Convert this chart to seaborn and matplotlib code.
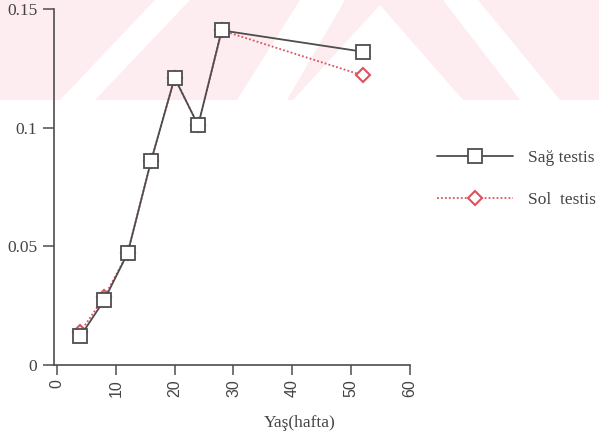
import matplotlib
matplotlib.use("Agg")
import matplotlib.pyplot as plt
from matplotlib.patches import Polygon
from matplotlib.lines import Line2D
import seaborn as sns
import pandas as pd

# ---- data ----
weeks = [4, 8, 12, 16, 20, 24, 28, 52]
sag_testis = [0.0122, 0.0272, 0.047, 0.086, 0.121, 0.101, 0.141, 0.132]
sol_testis = [0.0140, 0.0285, 0.047, 0.086, 0.121, 0.101, 0.141, 0.122]
series_labels = ["Sağ testis", "Sol  testis"]
x_ticks = [0, 10, 20, 30, 40, 50, 60]
y_ticks = [0, 0.05, 0.1, 0.15]
y_tick_labels = ["0", "0.05", "0.1", "0.15"]
x_label = "Yaş(hafta)"

df_sag = pd.DataFrame({"hafta": weeks, "deger": sag_testis})
df_sol = pd.DataFrame({"hafta": weeks, "deger": sol_testis})

sns.set_theme(style="white")
plt.rcParams["font.family"] = ["Liberation Serif", "DejaVu Serif"]

W, H = 599, 436
fig = plt.figure(figsize=(W / 100, H / 100), dpi=100, facecolor="white")

def px(x, y):
    return (x / W, 1 - y / H)

# faint watermark band at top (behind the axes)
pink = "#fdedf0"
bg = Polygon([px(0, 0), px(W, 0), px(W, 100), px(0, 100)], closed=True,
             transform=fig.transFigure, facecolor=pink, edgecolor="none", zorder=-10)
fig.patches.append(bg)
whites = [
    [px(60, 100), px(95, 100), px(190, 0), px(155, 0)],
    [px(237, 100), px(287, 100), px(345, 0), px(300, 0)],
    [px(380, 5), px(463, 100), px(293, 100)],
    [px(443, 0), px(478, 0), px(560, 100), px(520, 100)],
]
for pts in whites:
    fig.patches.append(Polygon(pts, closed=True, transform=fig.transFigure,
                               facecolor="white", edgecolor="none", zorder=-9))

ax = fig.add_axes([54 / W, 1 - 365 / H, (410 - 54) / W, (365 - 9) / H])
ax.set_facecolor("none")
ax.set_zorder(5)

dark = "#4d4d4d"
red = "#e0505c"

sns.lineplot(data=df_sol, x="hafta", y="deger", ax=ax, color=red,
             linestyle=(0, (1, 1.2)), linewidth=1.3, marker="D", markersize=7,
             markerfacecolor="white", markeredgecolor=red, markeredgewidth=1.5,
             zorder=2)
sns.lineplot(data=df_sag, x="hafta", y="deger", ax=ax, color=dark,
             linewidth=1.3, marker="s", markersize=10,
             markerfacecolor="white", markeredgecolor=dark, markeredgewidth=1.3,
             zorder=3)

ax.set_xlim(-0.5, 60)
ax.set_ylim(0, 0.15)
ax.set_xticks(x_ticks)
ax.set_xticklabels([str(t) for t in x_ticks], rotation=90,
                   fontfamily="Liberation Sans", fontsize=11.5, color="#444444")
ax.set_yticks(y_ticks)
ax.set_yticklabels(y_tick_labels, fontsize=12.5, color="#444444")
ax.set_xlabel("")
ax.set_ylabel("")
for s in ["top", "right"]:
    ax.spines[s].set_visible(False)
for s in ["left", "bottom"]:
    ax.spines[s].set_color(dark)
    ax.spines[s].set_linewidth(1.2)
ax.tick_params(axis="y", direction="out", length=8, width=1.1, color=dark,
               left=True, pad=4)
ax.tick_params(axis="x", direction="out", length=7, width=1.1, color=dark,
               bottom=True, pad=3)

handles = [
    Line2D([0], [0], color=dark, linewidth=1.3, marker="s", markersize=10,
           markerfacecolor="white", markeredgecolor=dark, markeredgewidth=1.3),
    Line2D([0], [0], color=red, linewidth=1.3, linestyle=(0, (1, 1.2)), marker="D",
           markersize=7, markerfacecolor="white", markeredgecolor=red,
           markeredgewidth=1.5),
]
leg = fig.legend(handles, series_labels, loc="center left",
                 bbox_to_anchor=px(437, 179), frameon=False, fontsize=12.5,
                 handlelength=4.4, handletextpad=0.85, labelspacing=1.45,
                 borderpad=0, borderaxespad=0, numpoints=1)
for t in leg.get_texts():
    t.set_color("#444444")

fig.text(*px(300, 423), x_label, ha="center", va="center", fontsize=12.5,
         color="#444444")

fig.savefig("out.png", dpi=100, facecolor="white")
